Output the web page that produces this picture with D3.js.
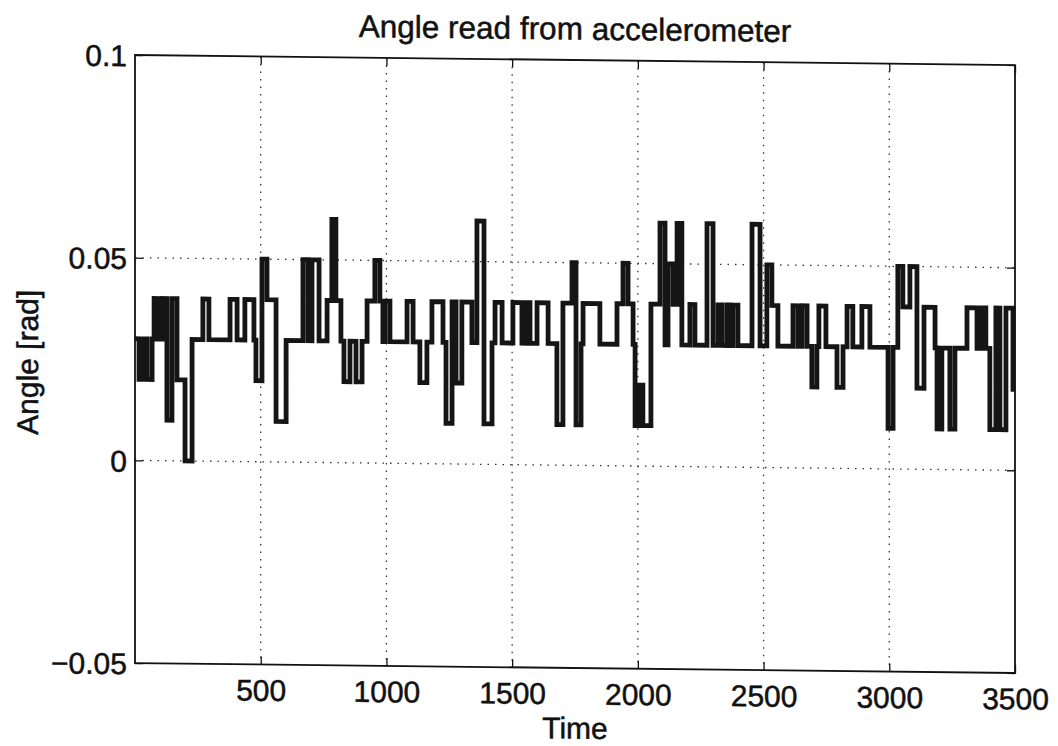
<!DOCTYPE html>
<html>
<head>
<meta charset="utf-8">
<script src="https://cdn.jsdelivr.net/npm/d3@7"></script>
<style>
  body { margin: 0; background: #fff; }
  text { font-family: "Liberation Sans", Arial, sans-serif; fill: #111; stroke: #111; stroke-width: 0.5px; }
</style>
</head>
<body>
<div id="chart"></div>
<script>
// data (time of each step, value held until next step)
const stepTimes = [
  0, 16, 32, 48, 68, 76, 95, 111, 127, 147, 167, 199, 227, 270, 294, 378, 406, 437,
  473, 481, 505, 525, 561, 601, 668, 688, 704, 732, 764, 783, 799, 819, 831, 855,
  879, 903, 923, 954, 974, 986, 994, 1014, 1082, 1106, 1133, 1161, 1181, 1225, 1237,
  1261, 1277, 1300, 1340, 1360, 1388, 1420, 1432, 1460, 1503, 1539, 1555, 1571, 1599,
  1643, 1678, 1702, 1738, 1754, 1774, 1782, 1849, 1917, 1941, 1961, 1981, 1989, 2008,
  2020, 2052, 2088, 2108, 2120, 2140, 2156, 2175, 2207, 2227, 2275, 2299, 2319, 2334,
  2354, 2366, 2378, 2398, 2454, 2486, 2513, 2533, 2557, 2617, 2637, 2653, 2673, 2692,
  2712, 2720, 2748, 2792, 2816, 2832, 2855, 2891, 2923, 2995, 3015, 3034, 3054, 3082,
  3110, 3138, 3182, 3190, 3209, 3241, 3261, 3309, 3349, 3365, 3384, 3400, 3424, 3440,
  3464, 3492, 3500
];
const angleValues = [
  0.03, 0.02, 0.03, 0.02, 0.03, 0.04, 0.03, 0.04, 0.01, 0.04, 0.02, 0.00, 0.03, 0.04, 0.03, 0.04, 0.03, 0.04,
  0.03, 0.02, 0.05, 0.04, 0.01, 0.03, 0.05, 0.03, 0.05, 0.03, 0.04, 0.06, 0.04, 0.03, 0.02, 0.03,
  0.02, 0.03, 0.04, 0.05, 0.04, 0.03, 0.04, 0.03, 0.04, 0.03, 0.02, 0.03, 0.04, 0.03, 0.01,
  0.04, 0.02, 0.04, 0.03, 0.06, 0.01, 0.03, 0.04, 0.03, 0.04, 0.03, 0.04, 0.03, 0.04,
  0.03, 0.01, 0.04, 0.05, 0.01, 0.03, 0.04, 0.03, 0.04, 0.05, 0.04, 0.03, 0.01, 0.02,
  0.01, 0.04, 0.06, 0.03, 0.05, 0.04, 0.06, 0.03, 0.04, 0.03, 0.06, 0.03, 0.04, 0.03,
  0.04, 0.03, 0.04, 0.03, 0.06, 0.03, 0.05, 0.04, 0.03, 0.04, 0.03, 0.04, 0.03, 0.02,
  0.03, 0.04, 0.03, 0.02, 0.03, 0.04, 0.03, 0.04, 0.03, 0.01, 0.03, 0.05, 0.04, 0.05,
  0.02, 0.04, 0.03, 0.01, 0.03, 0.01, 0.03, 0.04, 0.03, 0.04, 0.03, 0.01, 0.04, 0.01,
  0.04, 0.02, 0.02
];
const xTicks = [500, 1000, 1500, 2000, 2500, 3000, 3500];
const xGrid = [500, 1000, 1500, 2000, 2500, 3000];
const yTicks = [-0.05, 0, 0.05, 0.1];
const yTickLabels = ["\u22120.05", "0", "0.05", "0.1"];
const yGrid = [0, 0.05];

// config
const width = 1058,
  height = 746;
const plotLeft = 135,
  plotTop = 53.5,
  plotW = 880,
  plotH = 608;

const svg = d3
  .select("#chart")
  .append("svg")
  .attr("width", width)
  .attr("height", height);

// the scan is slightly tilted
const root = svg.append("g").attr("transform", "skewY(0.65)");

const x = d3.scaleLinear().domain([0, 3500]).range([plotLeft, plotLeft + plotW]);
const y = d3.scaleLinear().domain([-0.05, 0.1]).range([plotTop + plotH, plotTop]);

// grid
root
  .append("g")
  .selectAll("line")
  .data(xGrid)
  .join("line")
  .attr("x1", (d) => x(d))
  .attr("x2", (d) => x(d))
  .attr("y1", plotTop)
  .attr("y2", plotTop + plotH)
  .attr("stroke", "#333")
  .attr("stroke-width", 1.3)
  .attr("stroke-dasharray", "1.5,6");

root
  .append("g")
  .selectAll("line")
  .data(yGrid)
  .join("line")
  .attr("x1", plotLeft)
  .attr("x2", plotLeft + plotW)
  .attr("y1", (d) => y(d))
  .attr("y2", (d) => y(d))
  .attr("stroke", "#333")
  .attr("stroke-width", 1.3)
  .attr("stroke-dasharray", "1.5,6");

// signal
const series = stepTimes.map((t, i) => ({ t: t, v: angleValues[i] }));
const line = d3
  .line()
  .x((d) => x(d.t))
  .y((d) => y(d.v))
  .curve(d3.curveStepAfter);

root
  .append("path")
  .datum(series)
  .attr("d", line)
  .attr("fill", "none")
  .attr("stroke", "#151515")
  .attr("stroke-width", 4.8)
  .attr("stroke-linejoin", "miter");

// axes (ticks pointing inward like matlab)
const fmtY = (d) => yTickLabels[yTicks.indexOf(d)];

const gx = root
  .append("g")
  .attr("transform", `translate(0,${plotTop + plotH})`)
  .call(
    d3
      .axisBottom(x)
      .tickValues(xTicks)
      .tickFormat(d3.format("d"))
      .tickSizeInner(-8)
      .tickSizeOuter(0)
      .tickPadding(15)
  );
const gxTop = root
  .append("g")
  .attr("transform", `translate(0,${plotTop})`)
  .call(d3.axisTop(x).tickValues(xTicks).tickSizeInner(-8).tickSizeOuter(0).tickFormat(""));
const gy = root
  .append("g")
  .attr("transform", `translate(${plotLeft},0)`)
  .call(
    d3.axisLeft(y).tickValues(yTicks).tickFormat(fmtY).tickSizeInner(-8).tickSizeOuter(0).tickPadding(8)
  );
const gyRight = root
  .append("g")
  .attr("transform", `translate(${plotLeft + plotW},0)`)
  .call(d3.axisRight(y).tickValues(yTicks).tickSizeInner(-8).tickSizeOuter(0).tickFormat(""));

[gx, gxTop, gy, gyRight].forEach((g) => {
  g.select(".domain").remove();
  g.selectAll("line").attr("stroke", "#111").attr("stroke-width", 1.3);
  g.selectAll("text")
    .style("font-size", "30px")
    .style("font-family", '"Liberation Sans", Arial, sans-serif')
    .attr("fill", "#111");
});
gy.selectAll("text").attr("dy", "0.36em");

// frame
root
  .append("rect")
  .attr("x", plotLeft)
  .attr("y", plotTop)
  .attr("width", plotW)
  .attr("height", plotH)
  .attr("fill", "none")
  .attr("stroke", "#111")
  .attr("stroke-width", 1.8);

// labels
root
  .append("text")
  .attr("x", 575)
  .attr("y", 33)
  .attr("text-anchor", "middle")
  .style("font-size", "31.5px")
  .text("Angle read from accelerometer");

root
  .append("text")
  .attr("x", 575)
  .attr("y", 732)
  .attr("text-anchor", "middle")
  .style("font-size", "30px")
  .text("Time");

root
  .append("text")
  .attr("transform", "translate(38,362) rotate(-90)")
  .attr("text-anchor", "middle")
  .style("font-size", "30px")
  .text("Angle [rad]");
</script>
</body>
</html>
